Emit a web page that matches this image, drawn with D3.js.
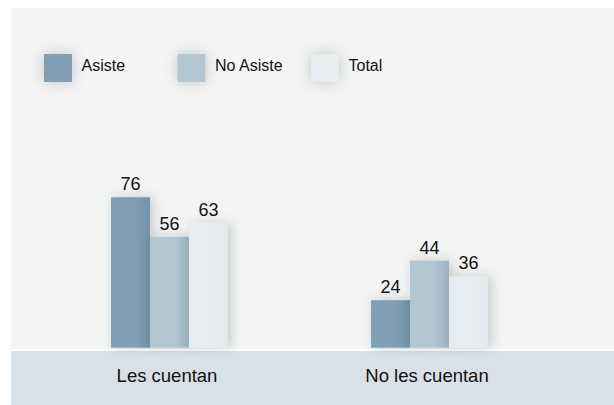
<!DOCTYPE html>
<html><head><meta charset="utf-8">
<script src="https://cdn.jsdelivr.net/npm/d3@7"></script>
<style>html,body{margin:0;padding:0;background:#fff;}svg{display:block;}</style>
</head><body>
<script>
const categories = ["Les cuentan", "No les cuentan"];
const seriesNames = ["Asiste", "No Asiste", "Total"];
const asiste = [76, 24];
const noAsiste = [56, 44];
const total = [63, 36];
const seriesValues = [asiste, noAsiste, total];
const colors = ["#7f9fb4", "#b2c7d2", "#e7ecf0"];
const colorsDark = ["#7393a8", "#9fb4c1", "#e3e8ed"];
const FONT = "'Liberation Sans', Arial, Helvetica, sans-serif";

const W = 614, H = 405;
const svg = d3.select("body").append("svg").attr("width", W).attr("height", H);
const defs = svg.append("defs");
const f = defs.append("filter").attr("id","sh").attr("x","-50%").attr("y","-50%").attr("width","200%").attr("height","200%");
f.append("feDropShadow").attr("dx",3).attr("dy",0).attr("stdDeviation",6).attr("flood-color","#000").attr("flood-opacity",0.18);
const f2 = defs.append("filter").attr("id","sh2").attr("x","-80%").attr("y","-80%").attr("width","260%").attr("height","260%");
f2.append("feDropShadow").attr("dx",0).attr("dy",0).attr("stdDeviation",7).attr("flood-color","#000").attr("flood-opacity",0.2);
colors.forEach((c,i)=>{
  const g = defs.append("linearGradient").attr("id","g"+i).attr("x1","0").attr("x2","1").attr("y1","0").attr("y2","0");
  g.append("stop").attr("offset","0").attr("stop-color",c);
  g.append("stop").attr("offset","0.6").attr("stop-color",c);
  g.append("stop").attr("offset","1").attr("stop-color",colorsDark[i]);
});

// panel and band
svg.append("rect").attr("x",11).attr("y",8).attr("width",W-11).attr("height",341).attr("fill","#f3f5f5");
svg.append("rect").attr("x",11).attr("y",351).attr("width",W-11).attr("height",H-351).attr("fill","#d9e0e7");

const y = d3.scaleLinear().domain([0,100]).range([347.7, 149.7]);
const x0 = d3.scaleBand().domain(categories).range([39.5, 559.5]);
const x1 = d3.scaleBand().domain(seriesNames).range([-58.5, 58.5]);

const groups = svg.append("g").selectAll("g").data(categories).join("g")
  .attr("transform", d => `translate(${x0(d)+x0.bandwidth()/2},0)`);

groups.each(function(cat, ci){
  const g = d3.select(this);
  seriesNames.forEach((s, si) => {
    const v = seriesValues[si][ci];
    g.append("rect").attr("x", x1(s)).attr("width", x1.bandwidth())
      .attr("y", y(v)).attr("height", y(0)-y(v))
      .attr("fill", `url(#g${si})`).attr("filter","url(#sh)");
  });
  seriesNames.forEach((s, si) => {
    const v = seriesValues[si][ci];
    g.append("text").attr("x", x1(s)+x1.bandwidth()/2).attr("y", y(v)-7)
      .attr("text-anchor","middle").attr("font-family",FONT)
      .attr("font-size",18).attr("fill","#111").text(v);
  });
});

// category labels
svg.append("g").selectAll("text").data(categories).join("text")
  .attr("x", d => x0(d)+x0.bandwidth()/2 - 2.5).attr("y", 382)
  .attr("text-anchor","middle").attr("font-family",FONT)
  .attr("font-size",18.5).attr("fill","#111").text(d=>d);

// legend
const lx = d3.scalePoint().domain(seriesNames).range([44, 311]);
const lg = svg.append("g").selectAll("g").data(seriesNames).join("g")
  .attr("transform", d => `translate(${lx(d)},54)`);
lg.append("rect").attr("width",28).attr("height",28).attr("fill",(d,i)=>colors[i]).attr("filter","url(#sh2)");
lg.append("text").attr("x",37.5).attr("y",16.5)
  .attr("font-family",FONT).attr("font-size",16).attr("fill","#111").text(d=>d);
</script>
</body></html>
